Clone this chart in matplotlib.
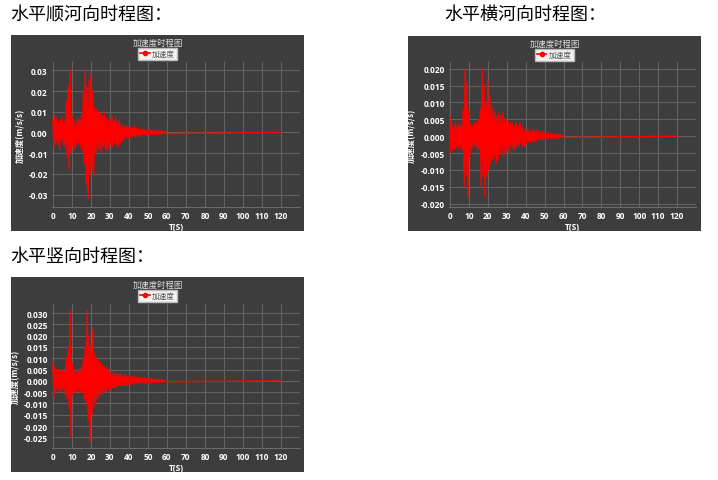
import matplotlib
matplotlib.use('Agg')
import matplotlib.pyplot as plt
from matplotlib.patches import Rectangle
from matplotlib.lines import Line2D
import numpy as np

plt.rcParams['font.family'] = ['Noto Sans CJK SC', 'DejaVu Sans']

# acceleration samples every 0.5 s from 0 to 59.5 s, last value at 120 s
shunhe = [0.006, -0.007, 0.008, -0.005, 0.007, -0.006, 0.005, -0.008, 0.006, -0.004,
          0.007, -0.006, 0.005, -0.007, 0.015, -0.012, 0.022, -0.018, 0.030, -0.010,
          0.008, -0.007, 0.006, -0.008, 0.005, -0.006, 0.007, -0.005, 0.006, -0.007,
          0.008, -0.009, 0.020, -0.015, 0.030, -0.025, 0.022, -0.032, 0.025, -0.020,
          0.028, -0.018, 0.020, -0.021, 0.012, -0.010, 0.011, -0.009, 0.010, -0.008,
          0.009, -0.010, 0.008, -0.007, 0.010, -0.008, 0.007, -0.009, 0.006, -0.008,
          0.007, -0.006, 0.008, -0.007, 0.006, -0.005, 0.007, -0.006, 0.005, -0.007,
          0.006, -0.005, 0.004, -0.004, 0.003, -0.003, 0.003, -0.002, 0.003, -0.003,
          0.002, -0.003, 0.003, -0.002, 0.002, -0.002, 0.003, -0.002, 0.002, -0.002,
          0.002, -0.0015, 0.0015, -0.002, 0.0015, -0.001, 0.0015, -0.0015, 0.001, -0.0015,
          0.001, -0.001, 0.0015, -0.001, 0.001, -0.001, 0.001, -0.0008, 0.001, -0.001,
          0.0008, -0.001, 0.0008, -0.0008, 0.001, -0.0006, 0.0008, -0.0006, 0.0006, -0.0006,
          0.0]

henghe = [0.006, -0.005, 0.004, -0.004, 0.003, -0.004, 0.004, -0.003, 0.003, -0.004,
          0.004, -0.003, 0.003, -0.004, 0.008, -0.015, 0.020, -0.012, 0.016, -0.018,
          0.008, -0.006, 0.004, -0.004, 0.003, -0.003, 0.004, -0.003, 0.004, -0.004,
          0.005, -0.004, 0.008, -0.015, 0.020, -0.012, 0.015, -0.018, 0.010, -0.012,
          0.017, -0.010, 0.012, -0.008, 0.009, -0.007, 0.008, -0.006, 0.007, -0.008,
          0.006, -0.007, 0.007, -0.005, 0.006, -0.005, 0.007, -0.006, 0.005, -0.005,
          0.005, -0.004, 0.004, -0.005, 0.004, -0.003, 0.004, -0.004, 0.003, -0.004,
          0.004, -0.003, 0.003, -0.003, 0.004, -0.002, 0.003, -0.003, 0.002, -0.003,
          0.002, -0.002, 0.002, -0.0015, 0.002, -0.002, 0.0015, -0.0015, 0.002, -0.0015,
          0.0015, -0.0015, 0.002, -0.001, 0.0015, -0.001, 0.001, -0.001, 0.0015, -0.001,
          0.001, -0.0008, 0.0008, -0.001, 0.0008, -0.0006, 0.001, -0.0008, 0.0006, -0.0008,
          0.0008, -0.0006, 0.0006, -0.0006, 0.0005, -0.0006, 0.0005, -0.0004, 0.0005, -0.0004,
          0.0]

shuxiang = [0.008, -0.007, 0.006, -0.005, 0.005, -0.004, 0.005, -0.005, 0.004, -0.005,
            0.005, -0.004, 0.004, -0.006, 0.010, -0.008, 0.015, -0.012, 0.031, -0.025,
            0.008, -0.006, 0.005, -0.005, 0.004, -0.005, 0.005, -0.004, 0.005, -0.005,
            0.006, -0.005, 0.010, -0.008, 0.015, -0.010, 0.031, -0.018, 0.020, -0.027,
            0.015, -0.015, 0.023, -0.012, 0.012, -0.010, 0.010, -0.008, 0.009, -0.007,
            0.008, -0.006, 0.007, -0.006, 0.006, -0.005, 0.006, -0.005, 0.005, -0.004,
            0.004, -0.004, 0.003, -0.003, 0.004, -0.003, 0.003, -0.003, 0.003, -0.002,
            0.003, -0.002, 0.003, -0.002, 0.002, -0.002, 0.003, -0.002, 0.002, -0.002,
            0.002, -0.0015, 0.002, -0.0015, 0.0015, -0.0015, 0.002, -0.001, 0.0015, -0.0015,
            0.0015, -0.001, 0.0015, -0.001, 0.001, -0.001, 0.0015, -0.001, 0.001, -0.001,
            0.001, -0.0008, 0.0008, -0.0008, 0.001, -0.0006, 0.0008, -0.0006, 0.0006, -0.0006,
            0.0006, -0.0005, 0.0006, -0.0005, 0.0005, -0.0005, 0.0005, -0.0004, 0.0004, -0.0004,
            0.0]

t = np.append(np.arange(0, 60, 0.5), 120)

x_ticks = list(range(0, 130, 10))
yticks_shunhe = [-0.03, -0.02, -0.01, 0.0, 0.01, 0.02, 0.03]
yticks_henghe = [-0.020, -0.015, -0.010, -0.005, 0.0, 0.005, 0.010, 0.015, 0.020]
yticks_shuxiang = [-0.025, -0.020, -0.015, -0.010, -0.005, 0.0, 0.005, 0.010,
                   0.015, 0.020, 0.025, 0.030]

W, H = 718, 481
fig = plt.figure(figsize=(W / 100, H / 100), dpi=100)
fig.patch.set_facecolor('white')

BG = '#3d3d3d'


def fx(px):
    return px / W


def fy(py):
    return 1 - py / H


def panel(box, axbox, data, yticks, ylim, fmt, heading, hpos, ylab_x):
    x0, y0, x1, y1 = box
    fig.add_artist(Rectangle((fx(x0), fy(y1)), fx(x1 - x0), (y1 - y0) / H,
                             transform=fig.transFigure, facecolor=BG,
                             edgecolor='none', zorder=0))
    ax0, ay0, ax1, ay1 = axbox
    ax = fig.add_axes([fx(ax0), fy(ay1), fx(ax1 - ax0), (ay1 - ay0) / H])
    ax.set_facecolor(BG)
    ax.plot(t, data, color='#ff0000', lw=1.0)
    ax.set_xlim(-0.5, 130)
    ax.set_ylim(*ylim)
    ax.set_xticks(x_ticks)
    ax.set_yticks(yticks)
    ax.set_yticklabels([fmt.format(v) for v in yticks])
    ax.grid(True, color='#626262', lw=0.8)
    ax.set_axisbelow(True)
    for s in ax.spines.values():
        s.set_visible(False)
    ax.spines['bottom'].set_visible(True)
    ax.spines['bottom'].set_color('#6a6a6a')
    ax.tick_params(colors='white', labelsize=6, length=0, pad=3)
    for lab in ax.get_xticklabels() + ax.get_yticklabels():
        lab.set_fontweight('bold')
        lab.set_family('Open Sans')
    ax.set_xlabel('T(S)', color='white', fontsize=6, fontweight='bold',
                  family='Open Sans', labelpad=1)
    ax.set_ylabel('加速度(m/s/s)', color='white', fontsize=6, fontweight='bold')
    ax.yaxis.set_label_coords(ylab_x, 0.5)
    cx = (x0 + x1) / 2
    fig.text(fx(cx), fy(y0 + 7), '加速度时程图', color='#dddddd', fontsize=6,
             ha='center', va='center')
    handle = Line2D([], [], color='red', marker='o', markersize=3, lw=1.2)
    leg = ax.legend([handle], ['加速度'], loc='center',
                    bbox_to_anchor=(fx(cx), fy(y0 + 19)),
                    bbox_transform=fig.transFigure, fontsize=5.5,
                    frameon=True, fancybox=False, handlelength=1.2,
                    handletextpad=0.3, borderpad=0.25, borderaxespad=0)
    leg.get_frame().set_facecolor('#f2f2f2')
    leg.get_frame().set_edgecolor('#bbbbbb')
    leg.get_frame().set_alpha(1)
    for txt in leg.get_texts():
        txt.set_color('#555555')
    fig.text(fx(hpos[0]), fy(hpos[1]), heading, fontsize=13, color='black',
             ha='left', va='center')
    return ax


panel((11, 36, 304, 232), (52, 63, 300, 208), shunhe, yticks_shunhe,
      (-0.036, 0.034), '{:.2f}', '水平顺河向时程图：', (10, 15), -0.11)
panel((408, 37, 701, 232), (449, 63, 696, 208), henghe, yticks_henghe,
      (-0.021, 0.022), '{:.3f}', '水平横河向时程图：', (444, 15), -0.135)
panel((11, 278, 304, 473), (52, 305, 300, 449), shuxiang, yticks_shuxiang,
      (-0.0297, 0.034), '{:.3f}', '水平竖向时程图：', (10, 257), -0.13)

fig.savefig('out.png', dpi=100, facecolor='white')
